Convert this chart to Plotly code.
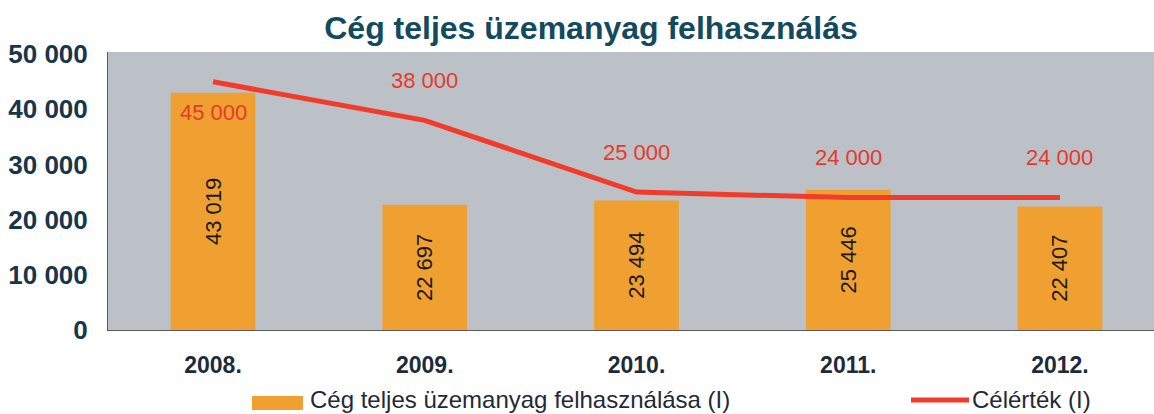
import plotly.graph_objects as go

# Data
years = ["2008.", "2009.", "2010.", "2011.", "2012."]
usage = [43019, 22697, 23494, 25446, 22407]          # Cég teljes üzemanyag felhasználása (l)
target = [45000, 38000, 25000, 24000, 24000]         # Célérték (l)
usage_name = "Cég teljes üzemanyag felhasználása (l)"
target_name = "Célérték (l)"
title_text = "Cég teljes üzemanyag felhasználás"

ORANGE = "#efa030"
RED = "#f23b2b"
LABEL_RED = "#e63a2c"
BG_GRAY = "#bcc1c7"
FONT = "Liberation Sans, Arial, sans-serif"

W, H = 1154, 414
L, T, B = 108, 52, 84

fig = go.Figure()

fig.add_trace(go.Bar(
    x=years, y=usage, name=usage_name,
    marker=dict(color=ORANGE, line=dict(width=0)),
    width=0.4,
    texttemplate="%{y:,d}",
    textposition="inside",
    insidetextanchor="middle",
    textangle=-90,
    constraintext="none",
    textfont=dict(family=FONT, size=22, color="#1a1a1a"),
    showlegend=False,
))

fig.add_trace(go.Scatter(
    x=years, y=target, name=target_name,
    mode="lines",
    line=dict(color=RED, width=5),
    showlegend=False,
))

# Target value labels: first one below the line, the rest above it
# (category positions given by index)
for i, v in enumerate(target):
    fig.add_annotation(
        x=i, y=v, xref="x", yref="y",
        text=f"{v:,}".replace(",", " "),
        showarrow=False,
        yshift=-31 if i == 0 else 40,
        font=dict(family=FONT, size=22, color=LABEL_RED),
    )

# Legend drawn below the axis
plot_w = W - L
plot_h = H - T - B


def px_x(px):
    return (px - L) / plot_w


def px_y(py):
    return (H - B - py) / plot_h


fig.add_shape(type="rect", xref="paper", yref="paper",
              x0=px_x(252), x1=px_x(303), y0=px_y(410), y1=px_y(396),
              fillcolor=ORANGE, line=dict(width=0))
fig.add_annotation(xref="paper", yref="paper", x=px_x(308), y=px_y(399),
                   xanchor="left", yanchor="middle", showarrow=False,
                   text=usage_name.replace("(l)", "(I)"),
                   font=dict(family=FONT, size=24, color="#1f2a38"))
fig.add_shape(type="line", xref="paper", yref="paper",
              x0=px_x(911), x1=px_x(969), y0=px_y(400), y1=px_y(400),
              line=dict(color=RED, width=5))
fig.add_annotation(xref="paper", yref="paper", x=px_x(970), y=px_y(399),
                   xanchor="left", yanchor="middle", showarrow=False,
                   text=target_name.replace("(l)", "(I)"),
                   font=dict(family=FONT, size=24, color="#1f2a38"))

fig.update_layout(
    width=W, height=H,
    margin=dict(l=L, r=0, t=T, b=B, pad=0),
    paper_bgcolor="white",
    plot_bgcolor=BG_GRAY,
    separators=", ",
    title=dict(
        text=f"<b>{title_text}</b>",
        x=591 / W, xref="container", xanchor="center",
        y=1 - 28 / H, yref="container", yanchor="middle",
        font=dict(family=FONT, size=32, color="#134a5e"),
    ),
    xaxis=dict(
        type="category",
        range=[-0.496, 4.444],
        showgrid=False,
        showline=True, linecolor="#5a5a5a", linewidth=1,
        ticks="",
        ticklabelstandoff=14,
        tickfont=dict(family=FONT, size=23, color="#1c2b3a", weight="bold"),
        fixedrange=True,
    ),
    yaxis=dict(
        range=[0, 50400],
        tickvals=[0, 10000, 20000, 30000, 40000, 50000],
        tickformat=",d",
        showgrid=False,
        zeroline=False,
        showline=True, linecolor="#5a5a5a", linewidth=1,
        ticks="",
        ticklabelstandoff=14,
        tickfont=dict(family=FONT, size=26, color="#17364b", weight="bold"),
        fixedrange=True,
    ),
)

fig.write_html("out.html")
